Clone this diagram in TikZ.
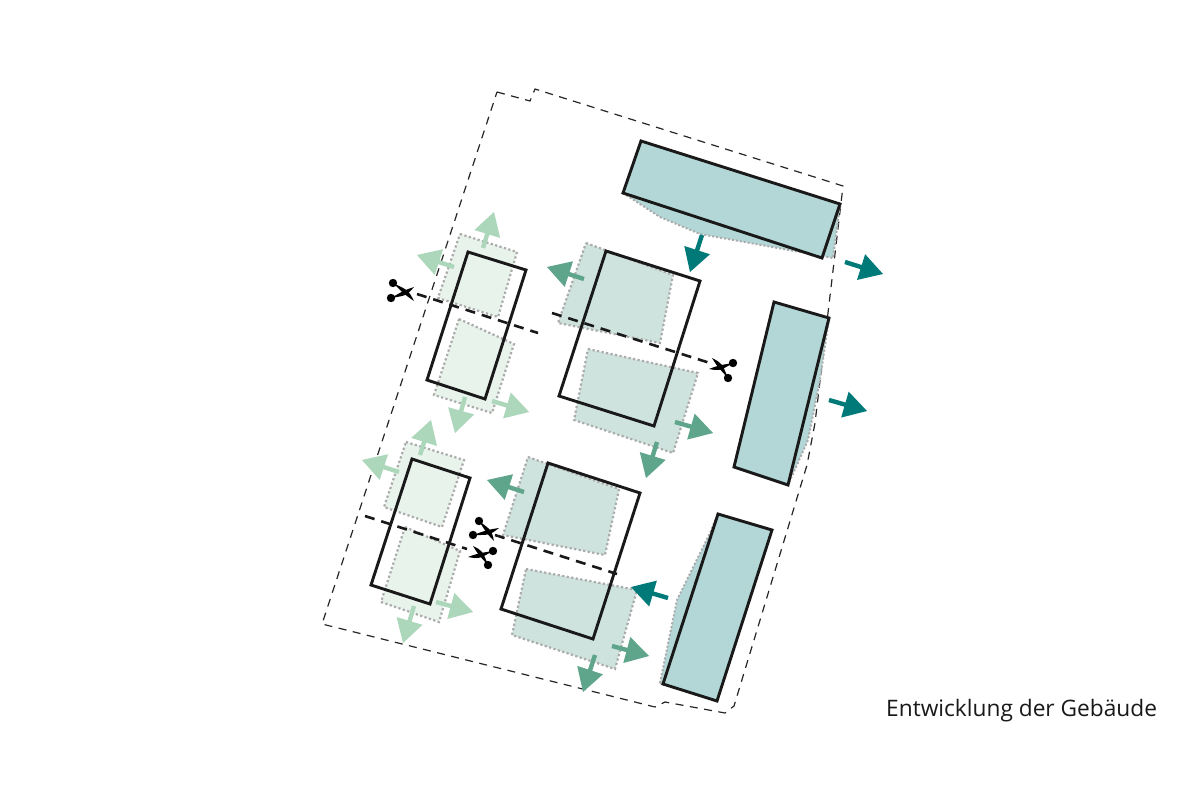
\documentclass[tikz,border=0pt]{standalone}
\usepackage{fontspec}
\setmainfont{Open Sans}
\usetikzlibrary{calc}
\definecolor{shlight}{HTML}{E8F3EC}
\definecolor{shmid}{HTML}{CEE3DD}
\definecolor{shteal}{HTML}{B3D6D6}
\definecolor{arlight}{HTML}{ACD7BB}
\definecolor{armid}{HTML}{5FA58C}
\definecolor{arteal}{HTML}{007A78}
\definecolor{dotgrey}{HTML}{ABABAB}
\tikzset{
  plot boundary/.style={draw=black!85,line width=1.2pt,dash pattern=on 8pt off 6.5pt},
  shade light/.style={fill=shlight,draw=dotgrey,line width=2.2pt,dash pattern=on 2.2pt off 2.4pt},
  shade mid/.style={fill=shmid,draw=dotgrey,line width=2.2pt,dash pattern=on 2.2pt off 2.4pt},
  shade teal/.style={fill=shteal,draw=dotgrey,line width=2pt,dash pattern=on 2pt off 2pt},
  volume/.style={draw=black!90,line width=2.9pt,line join=miter},
  cut line/.style={draw=black!90,line width=2.6pt,dash pattern=on 10pt off 7pt},
  caption text/.style={anchor=base west,inner sep=0pt,font=\fontsize{22.7}{26}\selectfont,text=black!90}
}
\newcommand{\arw}[3]{%
  \draw[#1,line width=4.4pt] (#2) -- ($(#3)!21pt!(#2)$);
  \fill[#1] (#3) -- ($(#3)!23pt!(#2)!13.5pt!90:(#3)$) -- ($(#3)!23pt!(#2)!13.5pt!-90:(#3)$) -- cycle;}
\newcommand{\blade}[3]{%
  \fill[black] (#1) .. controls ($(#1)!.6!(#2)!#3*4.5pt!90:(#2)$) .. (#2) .. controls ($(#1)!.6!(#2)!#3*-1.2pt!90:(#2)$) .. cycle;}
\newcommand{\scis}[5]{%
  \blade{#1}{#4}{#5}\blade{#2}{#3}{-#5}
  \fill[black] (#1) circle (4.2pt) (#2) circle (4.2pt);}
\begin{document}
\begin{tikzpicture}[x=1pt,y=-1pt]
\useasboundingbox (0,0) rectangle (1200,800);
\fill[white] (0,0) rectangle (1200,800);
% site boundary
\draw[plot boundary] (497,92) -- (530,101) -- (535,89) -- (843,186) -- (815,423) -- (807,465) -- (734,706) -- (725,713) -- (665,702) -- (655,707) -- (322,624) -- cycle;
% shaded footprints
\path[shade light] (460,234) -- (517,252) -- (498,317) -- (438,298) -- cycle;
\path[shade light] (459,319) -- (514,344) -- (492,413) -- (434,395) -- cycle;
\path[shade light] (406,442) -- (464,460) -- (442,527) -- (384,507) -- cycle;
\path[shade light] (405,527) -- (460,551) -- (439,622) -- (381,602) -- cycle;
\path[shade mid] (586,243) -- (673,275) -- (660,343) -- (558,323) -- cycle;
\path[shade mid] (588,349) -- (698,373) -- (673,453) -- (574,420) -- cycle;
\path[shade mid] (528,457) -- (619,489) -- (605,555) -- (503,535) -- cycle;
\path[shade mid] (526,569) -- (637,590) -- (615,669) -- (512,635) -- cycle;
\path[shade teal] (623,193) -- (660,217) -- (700,234) -- (833,258) -- (840,205) -- cycle;
\path[shade teal] (829,318) -- (820,380) -- (808,440) -- (788,485) -- cycle;
\path[shade teal] (660,683) -- (677,600) -- (710,533) -- (718,514) -- (663,684) -- cycle;
% buildings
\draw[volume,fill=shteal] (641,141) -- (840,204) -- (822,258) -- (623,193) -- cycle;
\draw[volume,fill=shteal] (774,302) -- (829,318) -- (788,485) -- (734,467) -- cycle;
\draw[volume,fill=shteal] (718,514) -- (772,530) -- (717,701) -- (663,684) -- cycle;
\draw[volume] (468,252) -- (526,270) -- (485,399) -- (427,380) -- cycle;
\draw[volume] (606,251) -- (700,281) -- (654,426) -- (559,396) -- cycle;
\draw[volume] (412,459) -- (470,478) -- (430,604) -- (371,585) -- cycle;
\draw[volume] (548,463) -- (640,493) -- (593,639) -- (501,609) -- cycle;
% cut lines
\draw[cut line] (417,294) -- (538,333);
\draw[cut line] (552,313) -- (710,363);
\draw[cut line] (365,516) -- (467,549);
\draw[cut line] (495,535) -- (617,574);
% scissors
\scis{393,283}{391,298}{414,287}{414,301}{1}
\scis{733,363}{728,378}{712,358}{709,369}{1}
\scis{479,521}{473,535}{499,528}{494,541}{1}
\scis{493,551}{488,565}{473,546}{468,557}{1}
% arrows
\arw{arlight}{483,248}{494,212}
\arw{arlight}{454,267}{417,255}
\arw{arlight}{465,397}{455,433}
\arw{arlight}{492,401}{529,412}
\arw{arlight}{420,455}{431,420}
\arw{arlight}{399,472}{362,460}
\arw{arlight}{436,602}{473,612}
\arw{arlight}{414,606}{403,643}
\arw{armid}{584,279}{547,267}
\arw{armid}{675,422}{713,433}
\arw{armid}{657,442}{646,478}
\arw{armid}{524,492}{487,480}
\arw{armid}{612,646}{649,656}
\arw{armid}{595,655}{583,692}
\arw{arteal}{702,235}{690,272}
\arw{arteal}{845,262}{883,274}
\arw{arteal}{829,400}{867,411}
\arw{arteal}{668,598}{631,587}
% caption
\node[caption text] (caption) at (886,716) {Entwicklung der Gebäude};
\end{tikzpicture}
\end{document}
